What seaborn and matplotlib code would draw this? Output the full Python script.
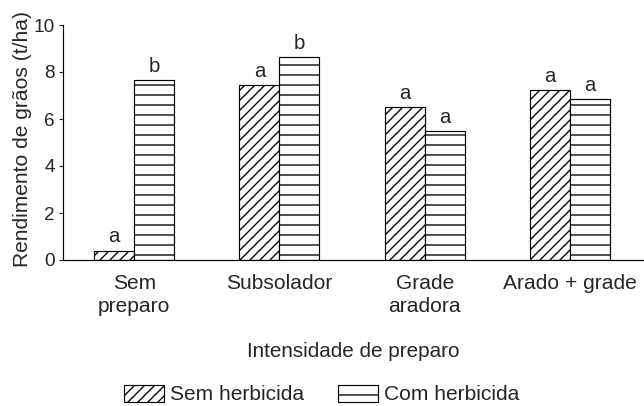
import pandas as pd
import seaborn as sns
import matplotlib.pyplot as plt
from matplotlib.patches import Patch

# Dados
preparo = ['Sem\npreparo', 'Subsolador', 'Grade\naradora', 'Arado + grade']
sem_herbicida = [0.4, 7.43, 6.52, 7.23]
com_herbicida = [7.65, 8.62, 5.50, 6.86]
letras_sem = ['a', 'a', 'a', 'a']
letras_com = ['b', 'b', 'a', 'a']
tratamentos = ['Sem herbicida', 'Com herbicida']
hachuras = ['////', '--']

df = pd.DataFrame({
    'preparo': preparo * 2,
    'rendimento': sem_herbicida + com_herbicida,
    'herbicida': [tratamentos[0]] * 4 + [tratamentos[1]] * 4,
})

sns.set_style('ticks')
plt.rcParams['font.family'] = ['Liberation Sans', 'DejaVu Sans']
plt.rcParams['hatch.linewidth'] = 0.8
plt.rcParams['hatch.color'] = 'black'

DPI = 120
fig = plt.figure(figsize=(644 / DPI, 406 / DPI), dpi=DPI)
ax = fig.add_axes([63 / 644, 146 / 406, 581 / 644, 235 / 406])

sns.barplot(data=df, x='preparo', y='rendimento', hue='herbicida',
            palette=['white', 'white'], saturation=1, edgecolor='black',
            linewidth=0.7, width=0.55, gap=0, legend=False, ax=ax)

# Hachuras e letras sobre as barras
for cont, hatch, letras in zip(ax.containers, hachuras, [letras_sem, letras_com]):
    for bar, letra in zip(cont, letras):
        bar.set_hatch(hatch)
        ax.annotate(letra, (bar.get_x() + bar.get_width() / 2, bar.get_height()),
                    xytext=(0, 2.5), textcoords='offset points',
                    ha='center', va='bottom', fontsize=12.2)

ax.set_xlim(-0.49, 3.51)
ax.set_ylim(0, 10)
ax.set_yticks([0, 2, 4, 6, 8, 10])
sns.despine(ax=ax)
for s in ['left', 'bottom']:
    ax.spines[s].set_linewidth(0.7)
    ax.spines[s].set_color('black')

ax.tick_params(axis='x', length=0, pad=8.5, labelsize=12.6)
ax.tick_params(axis='y', length=2.5, width=0.7, pad=2.4, labelsize=11.4, direction='out')
for t in ax.get_xticklabels():
    t.set_linespacing(1.25)

ax.set_xlabel('Intensidade de preparo', fontsize=12.4, va='top')
ax.xaxis.set_label_coords(0.5, -0.35)
ax.set_ylabel('Rendimento de grãos (t/ha)', fontsize=12.6)
ax.yaxis.set_label_coords(-0.053, 0.515)

handles = [Patch(facecolor='white', edgecolor='black', hatch=h, linewidth=0.7, label=l)
           for h, l in zip(hachuras, tratamentos)]
fig.legend(handles=handles, loc='center', bbox_to_anchor=(0.5, 0.028), ncol=2,
           frameon=False, fontsize=12.6, handlelength=1.9, handleheight=0.85,
           handletextpad=0.3, columnspacing=1.6, borderpad=0.1)

fig.savefig('out.png', dpi=DPI)
plt.close(fig)
